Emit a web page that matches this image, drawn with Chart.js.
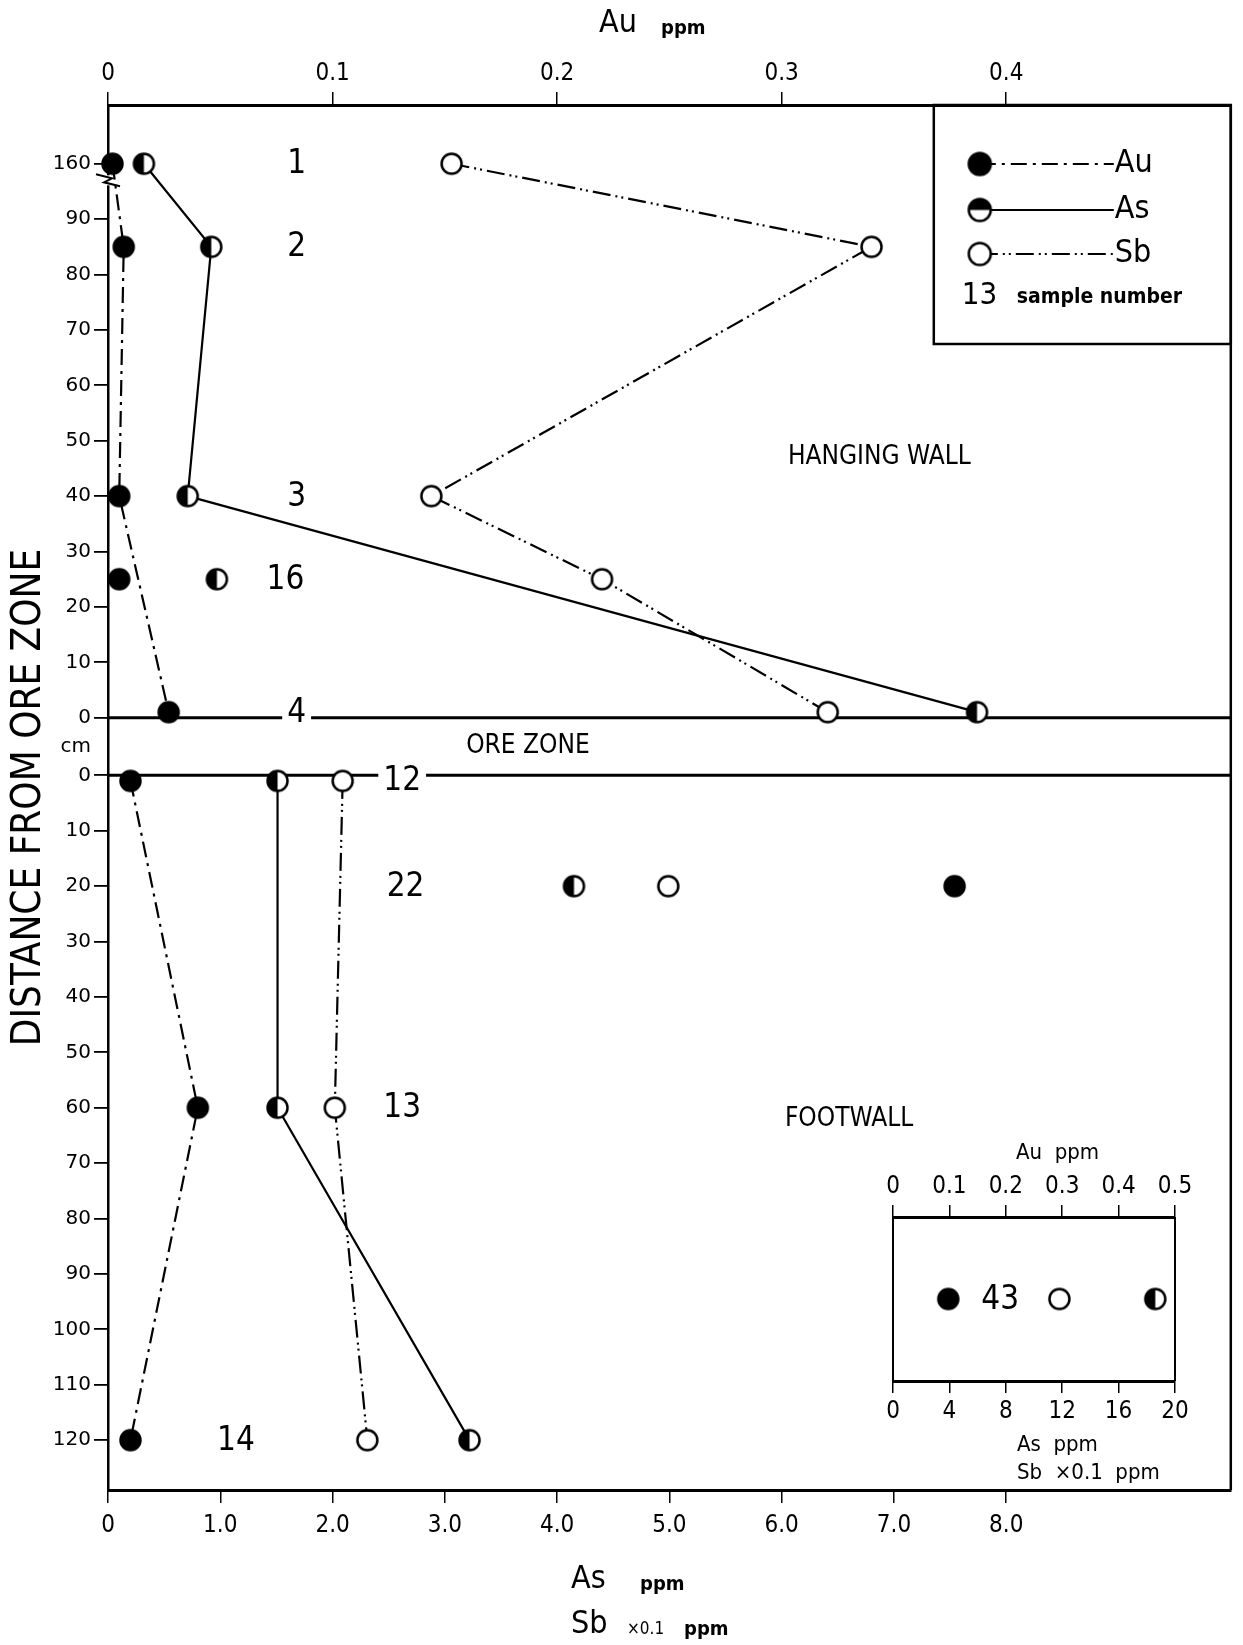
<!DOCTYPE html>
<html>
<head>
<meta charset="utf-8">
<script src="https://cdn.jsdelivr.net/npm/chart.js@4.4.1/dist/chart.umd.min.js"></script>
<style>
  body { margin: 0; background: #fff; }
  #wrap { position: relative; width: 1243px; height: 1645px; }
  #main { position: absolute; left: 0; top: 0; }
  #inset { position: absolute; left: 840px; top: 1135px; }
</style>
</head>
<body>
<div id="wrap">
  <canvas id="main" width="1243" height="1645"></canvas>
  <canvas id="inset" width="380" height="350"></canvas>
</div>
<script>
// hanging wall samples (distance above ore zone, cm)
const hangSample = ['1', '2', '3', '16', '4'];
const hangDist = [160, 85, 40, 25, 1];
const hangAu = [0.002, 0.007, 0.005, 0.005, 0.027];   // Au ppm
const hangAs = [0.32, 0.92, 0.71, 0.97, 7.74];        // As ppm
const hangSb = [3.06, 6.80, 2.88, 4.40, 6.41];        // Sb x0.1 ppm
const hangAuLinked = [1, 1, 1, 0, 1];
const hangAsLinked = [1, 1, 1, 0, 1];
const hangSbLinked = [1, 1, 1, 1, 1];
const hangLabelX = [1.68, 1.68, 1.68, 1.58, 1.68];

// footwall samples (distance below ore zone, cm)
const footSample = ['12', '22', '13', '14'];
const footDist = [1, 20, 60, 120];
const footAu = [0.010, 0.377, 0.040, 0.010];
const footAs = [1.51, 4.15, 1.51, 3.22];
const footSb = [2.09, 4.99, 2.02, 2.31];
const footLinked = [1, 0, 1, 1];
const footLabelX = [2.62, 2.65, 2.62, 1.14];

// inset: sample 43
const insetSample = ['43'];
const insetAu = [0.098];
const insetAs = [18.6];
const insetSb = [11.8];

// axis ticks
const hangTicks = [160, 90, 80, 70, 60, 50, 40, 30, 20, 10, 0];
const footTicks = [0, 10, 20, 30, 40, 50, 60, 70, 80, 90, 100, 110, 120];
const auTicks = [0, 0.1, 0.2, 0.3, 0.4];
const asTicks = [0, 1, 2, 3, 4, 5, 6, 7, 8];
const insetAuTicks = [0, 0.1, 0.2, 0.3, 0.4, 0.5];
const insetAsTicks = [0, 4, 8, 12, 16, 20];

const GAP = 10.4;        // ore zone thickness on the drawn axis
const BREAK_POS = 100;   // 160 cm sample sits just above 90 (broken axis)

function hangY(d) { return -((d >= 160 ? BREAK_POS : d) + GAP); }

const yTicks = hangTicks.map(d => ({value: hangY(d), label: String(d)}))
  .concat([{value: -GAP / 2, label: 'cm'}])
  .concat(footTicks.map(d => ({value: d, label: String(d)})));

function marker(kind, r) {
  const c = document.createElement('canvas');
  const s = Math.ceil(r * 2 + 5);
  c.width = s; c.height = s;
  const g = c.getContext('2d');
  const m = s / 2;
  g.fillStyle = '#fff';
  g.beginPath(); g.arc(m, m, r, 0, Math.PI * 2); g.fill();
  g.fillStyle = '#000';
  g.beginPath();
  if (kind === 'full') g.arc(m, m, r, 0, Math.PI * 2);
  else if (kind === 'left') g.arc(m, m, r, Math.PI / 2, Math.PI * 1.5);
  else if (kind === 'top') g.arc(m, m, r, Math.PI, Math.PI * 2);
  g.closePath();
  if (kind !== 'open') g.fill();
  g.lineWidth = 2.5; g.strokeStyle = '#000';
  g.beginPath(); g.arc(m, m, r, 0, Math.PI * 2); g.stroke();
  return c;
}
const mkAu = marker('full', 10);
const mkAs = marker('left', 10);
const mkSb = marker('open', 10);
const lgAu = marker('full', 11);
const lgAs = marker('top', 11);
const lgSb = marker('open', 11);

const DASH_AU = [16, 6, 3, 6];
const DASH_SB = [18, 5, 2, 4, 2, 5];

function series(xs, ys, linked, axis, img, dash) {
  const line = [], loose = [];
  xs.forEach((v, i) => {
    const p = {x: v, y: ys[i]};
    (linked[i] ? line : loose).push(p);
  });
  const base = {xAxisID: axis, pointStyle: img, pointRadius: 10, borderColor: '#000',
    backgroundColor: '#000', borderWidth: 2.2, clip: false};
  return [
    Object.assign({}, base, {data: line, showLine: true, borderDash: dash}),
    Object.assign({}, base, {data: loose, showLine: false})
  ];
}

const hY = hangDist.map(hangY);
const fY = footDist.slice();

const datasets = [].concat(
  series(hangAs, hY, hangAsLinked, 'x', mkAs, []),
  series(footAs, fY, footLinked, 'x', mkAs, []),
  series(hangSb, hY, hangSbLinked, 'x', mkSb, DASH_SB),
  series(footSb, fY, footLinked, 'x', mkSb, DASH_SB),
  series(hangAu, hY, hangAuLinked, 'xt', mkAu, DASH_AU),
  series(footAu, fY, footLinked, 'xt', mkAu, DASH_AU)
);

const NARROW = '"Liberation Sans Narrow", "DejaVu Sans Condensed"';

const decor = {
  id: 'decor',
  beforeDatasetsDraw(chart) {
    const {ctx, chartArea: ca, scales: {x, y}} = chart;
    ctx.save();
    // ore zone boundaries
    ctx.strokeStyle = '#000';
    ctx.lineWidth = 3;
    [hangY(0), 0].forEach(v => {
      const py = y.getPixelForValue(v);
      ctx.beginPath(); ctx.moveTo(ca.left, py); ctx.lineTo(ca.right, py); ctx.stroke();
    });
    // zone names
    ctx.fillStyle = '#000';
    ctx.textAlign = 'center';
    ctx.textBaseline = 'middle';
    ctx.font = '26px "DejaVu Sans Condensed"';
    ctx.fillText('HANGING WALL', x.getPixelForValue(6.87), y.getPixelForValue(hangY(47)));
    ctx.fillText('ORE ZONE', x.getPixelForValue(3.74), y.getPixelForValue(-GAP / 2));
    ctx.fillText('FOOTWALL', x.getPixelForValue(6.6), y.getPixelForValue(62));
    // sample numbers
    ctx.font = '33px "DejaVu Sans Condensed"';
    const put = (txt, xv, yv) => {
      const px = x.getPixelForValue(xv), py = y.getPixelForValue(yv);
      const w = ctx.measureText(txt).width + 10;
      ctx.fillStyle = '#fff';
      ctx.fillRect(px - w / 2, py - 14, w, 28);
      ctx.fillStyle = '#000';
      ctx.fillText(txt, px, py + 1);
    };
    hangSample.forEach((s, i) => put(s, hangLabelX[i], hY[i]));
    footSample.forEach((s, i) => put(s, footLabelX[i], fY[i]));
    ctx.restore();
  },
  afterDraw(chart) {
    const {ctx, chartArea: ca, scales: {y}} = chart;
    ctx.save();
    ctx.strokeStyle = '#000';
    ctx.fillStyle = '#000';
    // right frame
    ctx.lineWidth = 2.5;
    ctx.beginPath(); ctx.moveTo(ca.right, ca.top); ctx.lineTo(ca.right, ca.bottom); ctx.stroke();
    // axis break mark
    const yb = y.getPixelForValue(hangY(97));
    ctx.lineWidth = 2;
    ctx.fillStyle = '#fff';
    ctx.fillRect(ca.left - 3, yb - 5, 6, 10);
    ctx.beginPath();
    ctx.moveTo(ca.left - 12, yb - 6);
    ctx.lineTo(ca.left + 4, yb - 2);
    ctx.lineTo(ca.left - 4, yb + 2);
    ctx.lineTo(ca.left + 12, yb + 6);
    ctx.stroke();
    ctx.fillStyle = '#000';
    // axis titles
    ctx.textBaseline = 'middle';
    ctx.textAlign = 'left';
    ctx.font = '32px "DejaVu Sans Condensed"';
    ctx.fillText('Au', 599, 24);
    ctx.fillText('As', 571, 1580);
    ctx.fillText('Sb', 571, 1625);
    ctx.font = 'bold 20px "DejaVu Sans Condensed"';
    ctx.fillText('ppm', 661, 29);
    ctx.fillText('ppm', 640, 1585);
    ctx.font = '17px "DejaVu Sans Condensed"';
    ctx.fillText('×0.1', 627, 1630);
    ctx.font = 'bold 20px "DejaVu Sans Condensed"';
    ctx.fillText('ppm', 684, 1630);
    // legend box
    const lx = ca.right - 297, ly = ca.top, lb = ca.top + 239;
    ctx.lineWidth = 2.5;
    ctx.strokeRect(lx, ly, ca.right - lx, lb - ly);
    const rows = [
      {img: lgAu, dash: DASH_AU, txt: 'Au', y: ly + 59},
      {img: lgAs, dash: [], txt: 'As', y: ly + 105},
      {img: lgSb, dash: DASH_SB, txt: 'Sb', y: ly + 149}
    ];
    ctx.font = '32px "DejaVu Sans Condensed"';
    rows.forEach(r => {
      ctx.lineWidth = 2.2;
      ctx.setLineDash(r.dash);
      ctx.beginPath(); ctx.moveTo(lx + 46, r.y); ctx.lineTo(lx + 180, r.y); ctx.stroke();
      ctx.setLineDash([]);
      ctx.drawImage(r.img, lx + 46 - r.img.width / 2, r.y - r.img.height / 2);
      ctx.fillText(r.txt, lx + 181, r.y);
    });
    ctx.font = '31px "DejaVu Sans Condensed"';
    ctx.fillText('13', lx + 28, ly + 191);
    ctx.font = 'bold 21px "DejaVu Sans Condensed"';
    ctx.fillText('sample number', lx + 83, ly + 193);
    ctx.restore();
  }
};

const tickFontX = {family: NARROW, size: 24};
const gridOpt = {drawOnChartArea: false, drawTicks: true, tickLength: 13, color: '#000', lineWidth: 1.5};

new Chart(document.getElementById('main'), {
  type: 'scatter',
  data: {datasets: datasets},
  options: {
    responsive: false,
    animation: false,
    layout: {padding: {left: 0, right: 12, top: 0, bottom: 0}},
    plugins: {legend: {display: false}, tooltip: {enabled: false}},
    scales: {
      x: {
        type: 'linear', position: 'bottom', min: 0, max: 10,
        afterBuildTicks: s => { s.ticks = asTicks.map(v => ({value: v})); },
        afterFit: s => { s.height = 155; },
        ticks: {callback: v => v === 0 ? '0' : v.toFixed(1), font: tickFontX, color: '#000', padding: 8, maxRotation: 0, autoSkip: false},
        grid: gridOpt,
        border: {display: true, color: '#000', width: 3}
      },
      xt: {
        type: 'linear', position: 'top', min: 0, max: 0.5,
        afterBuildTicks: s => { s.ticks = auTicks.map(v => ({value: v})); },
        afterFit: s => { s.height = 105; },
        ticks: {callback: v => v === 0 ? '0' : v.toFixed(1), font: tickFontX, color: '#000', padding: 4, maxRotation: 0, autoSkip: false},
        grid: gridOpt,
        border: {display: true, color: '#000', width: 3}
      },
      y: {
        type: 'linear', reverse: true, min: -121, max: 129,
        afterBuildTicks: s => { s.ticks = yTicks.map(t => ({value: t.value})); },
        afterFit: s => { s.width = 108; },
        ticks: {
          callback: v => { const t = yTicks.find(k => Math.abs(k.value - v) < 1e-6); return t ? t.label : ''; },
          font: {family: 'DejaVu Sans', size: 20}, color: '#000', padding: 3, autoSkip: false
        },
        grid: {
          drawOnChartArea: false, drawTicks: true, tickLength: 14, lineWidth: 1.8,
          tickColor: c => (c.tick && Math.abs(c.tick.value + GAP / 2) < 1e-6) ? 'rgba(0,0,0,0)' : '#000'
        },
        border: {display: true, color: '#000', width: 2.5},
        title: {display: true, text: 'DISTANCE FROM ORE ZONE', color: '#000',
          font: {family: 'DejaVu Sans Condensed', size: 40}, padding: {top: 6, bottom: 0}}
      }
    }
  },
  plugins: [decor]
});

// inset chart for sample 43
const insetDecor = {
  id: 'insetDecor',
  afterDraw(chart) {
    const {ctx, chartArea: ca, scales: {x, y}} = chart;
    ctx.save();
    ctx.strokeStyle = '#000';
    ctx.lineWidth = 2;
    ctx.beginPath();
    ctx.moveTo(ca.left, ca.top); ctx.lineTo(ca.left, ca.bottom);
    ctx.moveTo(ca.right, ca.top); ctx.lineTo(ca.right, ca.bottom);
    ctx.stroke();
    ctx.fillStyle = '#000';
    ctx.font = '33px "DejaVu Sans Condensed"';
    ctx.textAlign = 'center';
    ctx.textBaseline = 'middle';
    ctx.fillText(insetSample[0], x.getPixelForValue(7.6), y.getPixelForValue(0.5) + 1);
    // scale titles
    ctx.textAlign = 'left';
    ctx.font = '22px "DejaVu Sans Condensed"';
    ctx.fillText('Au  ppm', 176, 18);
    ctx.fillText('As  ppm', 177, 310);
    ctx.fillText('Sb  ×0.1  ppm', 177, 338);
    ctx.restore();
  }
};

const insetGrid = {drawOnChartArea: false, drawTicks: true, tickLength: 12, color: '#000', lineWidth: 1.5};
const insetTickFont = {family: NARROW, size: 24};
new Chart(document.getElementById('inset'), {
  type: 'scatter',
  data: {
    datasets: [
      {data: insetAu.map(v => ({x: v, y: 0.5})), xAxisID: 'xt', pointStyle: mkAu, pointRadius: 10},
      {data: insetSb.map(v => ({x: v, y: 0.5})), xAxisID: 'x', pointStyle: mkSb, pointRadius: 10},
      {data: insetAs.map(v => ({x: v, y: 0.5})), xAxisID: 'x', pointStyle: mkAs, pointRadius: 10}
    ]
  },
  options: {
    responsive: false,
    animation: false,
    layout: {padding: {left: 53, right: 45, top: 0, bottom: 0}},
    plugins: {legend: {display: false}, tooltip: {enabled: false}},
    scales: {
      x: {
        type: 'linear', position: 'bottom', min: 0, max: 20,
        afterBuildTicks: s => { s.ticks = insetAsTicks.map(v => ({value: v})); },
        afterFit: s => { s.height = 104; },
        ticks: {font: insetTickFont, color: '#000', padding: 4, maxRotation: 0, autoSkip: false},
        grid: insetGrid,
        border: {display: true, color: '#000', width: 3}
      },
      xt: {
        type: 'linear', position: 'top', min: 0, max: 0.5,
        afterBuildTicks: s => { s.ticks = insetAuTicks.map(v => ({value: v})); },
        afterFit: s => { s.height = 82; },
        ticks: {callback: v => v === 0 ? '0' : v.toFixed(1), font: insetTickFont, color: '#000', padding: 4, maxRotation: 0, autoSkip: false},
        grid: insetGrid,
        border: {display: true, color: '#000', width: 3}
      },
      y: {type: 'linear', min: 0, max: 1, display: false}
    }
  },
  plugins: [insetDecor]
});
</script>
</body>
</html>
